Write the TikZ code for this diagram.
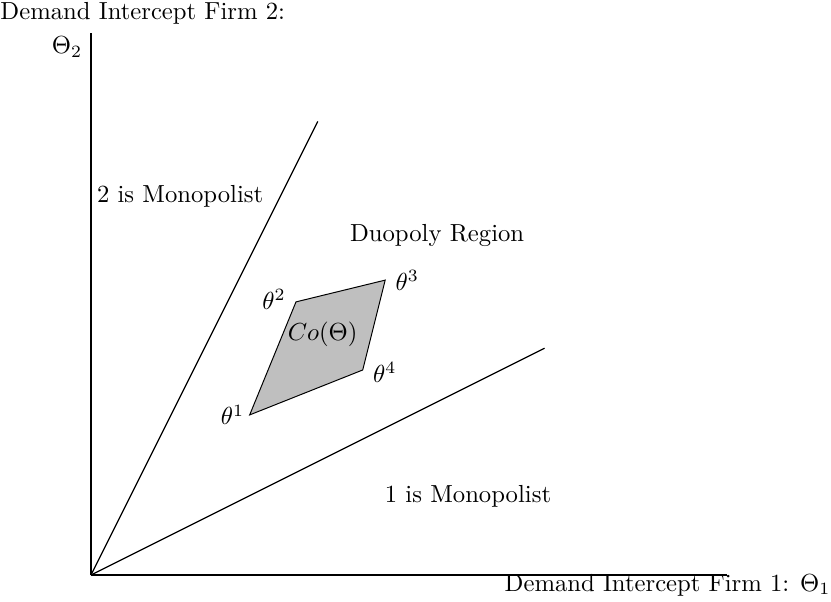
\documentclass[tikz,border=0pt]{standalone}
\usepackage{amsmath,amssymb,amsfonts}
\usepackage{xcolor}
\usetikzlibrary{positioning,calc}

\begin{document}
\begin{tikzpicture}[
    axis/.style={draw=black, line width=0.5pt},
    ray/.style={draw=black, line width=0.5pt},
    region/.style={font=\normalsize},
    vertex/.style={inner sep=1pt}
]
    \useasboundingbox (-1.296,-0.384) rectangle (10.54,8.19);

    % axes
    \coordinate (O) at (0,0);
    \coordinate (ytop) at (0,7.72);
    \coordinate (xend) at (9.06,0);
    \draw[axis] (O) -- (ytop);
    \draw[axis] (O) -- (xend);
    \node[anchor=north west, inner sep=0pt] (ylab) at (-1.296,8.16) {Demand Intercept Firm 2:};
    \node (ysym) at (-0.34,7.52) {$\Theta_2$};
    \node[anchor=east, inner sep=0pt] (xlab) at (10.54,-0.14) {Demand Intercept Firm 1: $\Theta_1$};

    % boundary rays
    \coordinate (steep) at (3.23,6.46);
    \coordinate (flat) at (6.46,3.23);
    \draw[ray] (O) -- (steep);
    \draw[ray] (O) -- (flat);

    % convex hull
    \coordinate (t1) at (2.26,2.28);
    \coordinate (t2) at (2.92,3.89);
    \coordinate (t3) at (4.19,4.20);
    \coordinate (t4) at (3.87,2.92);
    \draw[fill=black!25] (t1) -- (t2) -- (t3) -- (t4) -- cycle;
    \node[vertex, left=1pt of t1] (l1) {$\theta^1$};
    \node[vertex, left=3pt of t2, yshift=1pt] (l2) {$\theta^2$};
    \node[vertex, right=3pt of t3] (l3) {$\theta^3$};
    \node[vertex, right=3pt of t4, yshift=-1pt] (l4) {$\theta^4$};
    \node (hull) at (3.30,3.43) {$Co(\Theta)$};

    % regions
    \node[region] (mono2) at (1.27,5.40) {2 is Monopolist};
    \node[region] (duo) at (4.93,4.83) {Duopoly Region};
    \node[region] (mono1) at (5.37,1.12) {1 is Monopolist};
\end{tikzpicture}
\end{document}
